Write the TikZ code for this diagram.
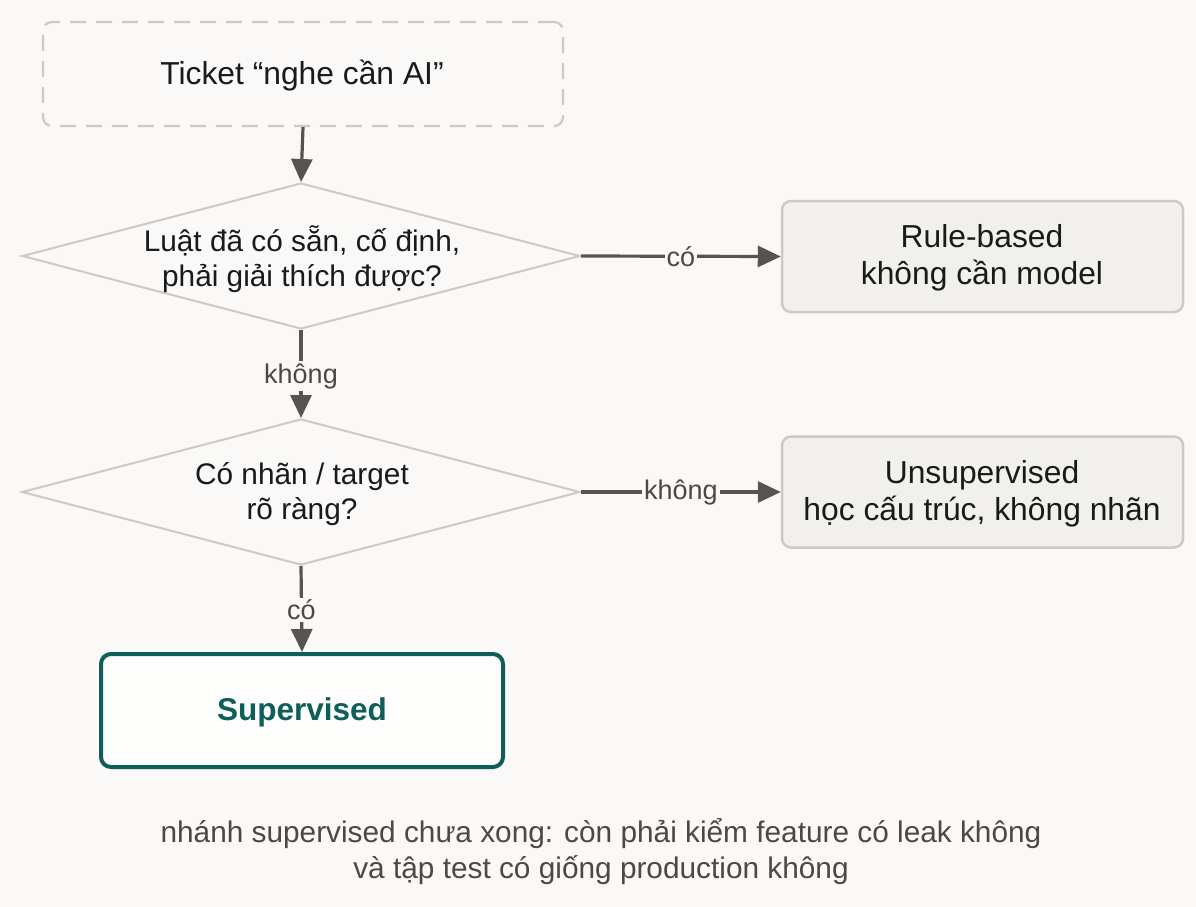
\documentclass[tikz,border=0pt]{standalone}
\usepackage{fontspec}
\setmainfont{Liberation Sans}
\usetikzlibrary{shapes.geometric,arrows.meta}
\definecolor{bgc}{HTML}{FAF9F7}
\definecolor{edgec}{HTML}{CDCAC1}
\definecolor{boxfill}{HTML}{F1F0EC}
\definecolor{linec}{HTML}{55544F}
\definecolor{labc}{HTML}{4A4945}
\definecolor{teal}{HTML}{0F5E59}
\definecolor{txt}{HTML}{1A1A1A}
\tikzset{
  maintext/.style={font=\fontsize{31.8}{36.5}\selectfont, text=txt, align=center},
  diatext/.style={font=\fontsize{29.8}{34.5}\selectfont, text=txt, align=center},
  startbox/.style={draw=edgec, line width=2.2pt, dash pattern=on 16pt off 10pt, rounded corners=9pt,
    minimum width=520pt, minimum height=104pt, inner sep=0pt},
  dia/.style={draw=edgec, line width=2pt, shape=diamond, minimum width=558pt, minimum height=146pt, inner sep=0pt},
  resbox/.style={draw=edgec, fill=boxfill, line width=2.5pt, rounded corners=9pt,
    minimum width=401pt, minimum height=111pt, inner sep=0pt},
  supbox/.style={draw=teal, fill=white!60!bgc, line width=4pt, rounded corners=10pt,
    minimum width=402pt, minimum height=113pt, inner sep=0pt},
  conn/.style={draw=linec, line width=3.2pt, -{Triangle[length=23pt,width=21pt]}},
  elabel/.style={font=\fontsize{27}{30}\selectfont, text=labc, fill=bgc, inner sep=2pt},
}
\begin{document}
\begin{tikzpicture}[x=1pt,y=-1pt]
\fill[bgc] (0,0) rectangle (1196,907);
\useasboundingbox (0,0) rectangle (1196,907);

\node[startbox] (start) at (303,74) {};
\node[maintext] (starttxt) at (302,76) {Ticket “nghe cần AI”};

\node[dia] (d1) at (301,256) {};
\node[diatext] (d1txt) at (302,259) {Luật đã có sẵn, cố định,\\phải giải thích được?};

\node[dia] (d2) at (301,492) {};
\node[diatext] (d2txt) at (302,494) {Có nhãn / target\\rõ ràng?};

\node[resbox] (rule) at (982.5,256.5) {};
\node[maintext] (ruletxt) at (982,258) {Rule-based\\không cần model};

\node[resbox] (unsup) at (982.5,492) {};
\node[maintext] (unsuptxt) at (982,494) {Unsupervised\\học cấu trúc, không nhãn};

\node[supbox] (sup) at (302,710.5) {};
\node[font=\fontsize{31.5}{36}\selectfont\bfseries, text=teal] (suptxt) at (302,712) {Supervised};

\draw[conn] (start.south) -- (d1.north);
\draw[conn] (d1.east) -- node[elabel] (l1) {có} (rule.west);
\draw[conn] (d1.south) -- node[elabel, yshift=-2pt] (l2) {không} (d2.north);
\draw[conn] (d2.east) -- node[elabel] (l3) {không} (unsup.west);
\draw[conn] (d2.south) -- node[elabel, yshift=-1pt] (l4) {có} (sup.north);

\node[font=\fontsize{29.8}{36}\selectfont, text=labc, align=center] (note) at (601,852)
  {nhánh supervised chưa xong: còn phải kiểm feature có leak không\\và tập test có giống production không};
\end{tikzpicture}
\end{document}
